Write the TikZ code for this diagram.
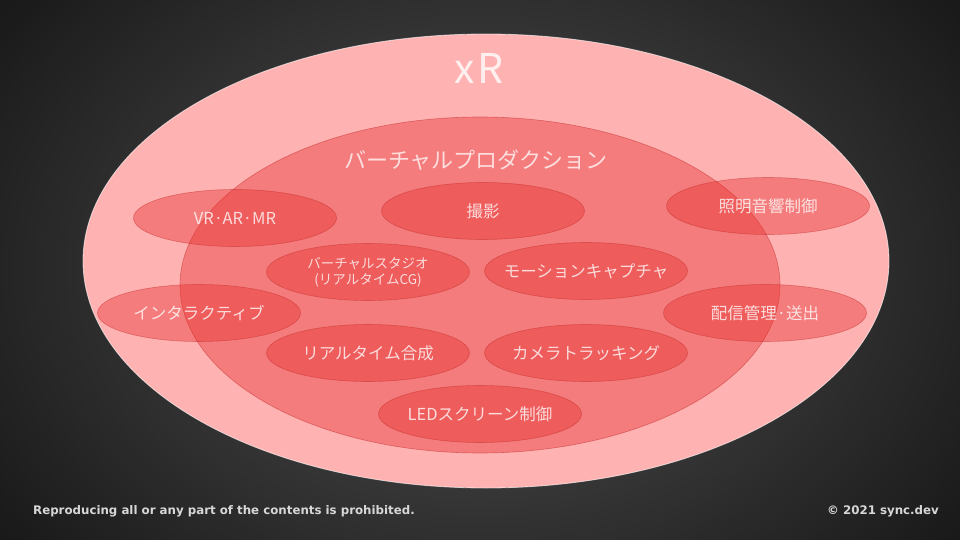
\documentclass[tikz,border=0pt]{standalone}
\usepackage{fontspec}
\newfontfamily\jp{Noto Sans CJK JP}
\newfontfamily\foot{DejaVu Sans}
\usetikzlibrary{shapes.geometric}
\definecolor{outerpink}{RGB}{255,178,178}
\definecolor{redfill}{RGB}{232,44,44}
\definecolor{edgered}{RGB}{190,40,40}
\definecolor{footgray}{RGB}{215,215,215}
\tikzset{
  outerell/.style={ellipse,draw=white,draw opacity=0.6,line width=0.8pt,fill=outerpink,inner sep=0pt},
  innerell/.style={ellipse,draw=edgered,draw opacity=0.5,line width=0.6pt,fill=redfill,fill opacity=0.4,inner sep=0pt},
  item/.style={ellipse,draw=edgered,draw opacity=0.45,line width=0.6pt,fill=redfill,fill opacity=0.4,
    inner sep=0pt,minimum width=203pt,minimum height=57pt,
    label={[itemtext]center:#1}},
  itemtext/.style={text=white,text opacity=0.78,fill opacity=1,draw opacity=0,inner sep=0pt,
    font=\jp\fontsize{16.5}{18}\selectfont,align=center},
  smalltext/.style={itemtext,font=\jp\fontsize{13.5}{16}\selectfont},
  bigtext/.style={text=white,text opacity=0.75,font=\jp\fontsize{22}{24}\selectfont},
  foottext/.style={text=footgray,font=\foot\bfseries\fontsize{11.8}{14}\selectfont,inner sep=0pt}
}
\begin{document}
\begin{tikzpicture}[x=1pt,y=-1pt]
\useasboundingbox (0,0) rectangle (960,540);
\shade[inner color={rgb,255:red,82;green,82;blue,82},outer color={rgb,255:red,22;green,22;blue,22}] (-150,-200) rectangle (1110,740);
\node[outerell,minimum width=806pt,minimum height=454pt] (xr) at (486,261) {};
\node[innerell,minimum width=600pt,minimum height=336pt] (vp) at (480,285) {};
\node[text=white,text opacity=0.8,anchor=base,inner sep=0pt,font=\jp\fontsize{41}{44}\selectfont] (xrlabel) at (479,84) {x\hspace{2pt}R};
\node[bigtext] (vplabel) at (476,160) {バーチャルプロダクション};
\node[item={VR·AR·MR}] (vr) at (235,218) {};
\node[item={撮影}] (sat) at (483,211) {};
\node[item={照明音響制御}] (light) at (768,206) {};
\node[item={}] (studio) at (368,272) {};
\node[smalltext] (studiotext) at (studio.center) {バーチャルスタジオ\\(リアルタイムCG)};
\node[item={モーションキャプチャ}] (mocap) at (586,271) {};
\node[item={インタラクティブ}] (inter) at (199,313) {};
\node[item={配信管理·送出}] (dist) at (765,313) {};
\node[item={リアルタイム合成}] (comp) at (368,353) {};
\node[item={カメラトラッキング}] (track) at (586,353) {};
\node[item={LEDスクリーン制御}] (led) at (480,414) {};
\node[foottext,anchor=west] (copyl) at (33,511) {Reproducing all or any part of the contents is prohibited.};
\node[foottext,anchor=east] (copyr) at (939,511) {© 2021 sync.dev};
\end{tikzpicture}
\end{document}
